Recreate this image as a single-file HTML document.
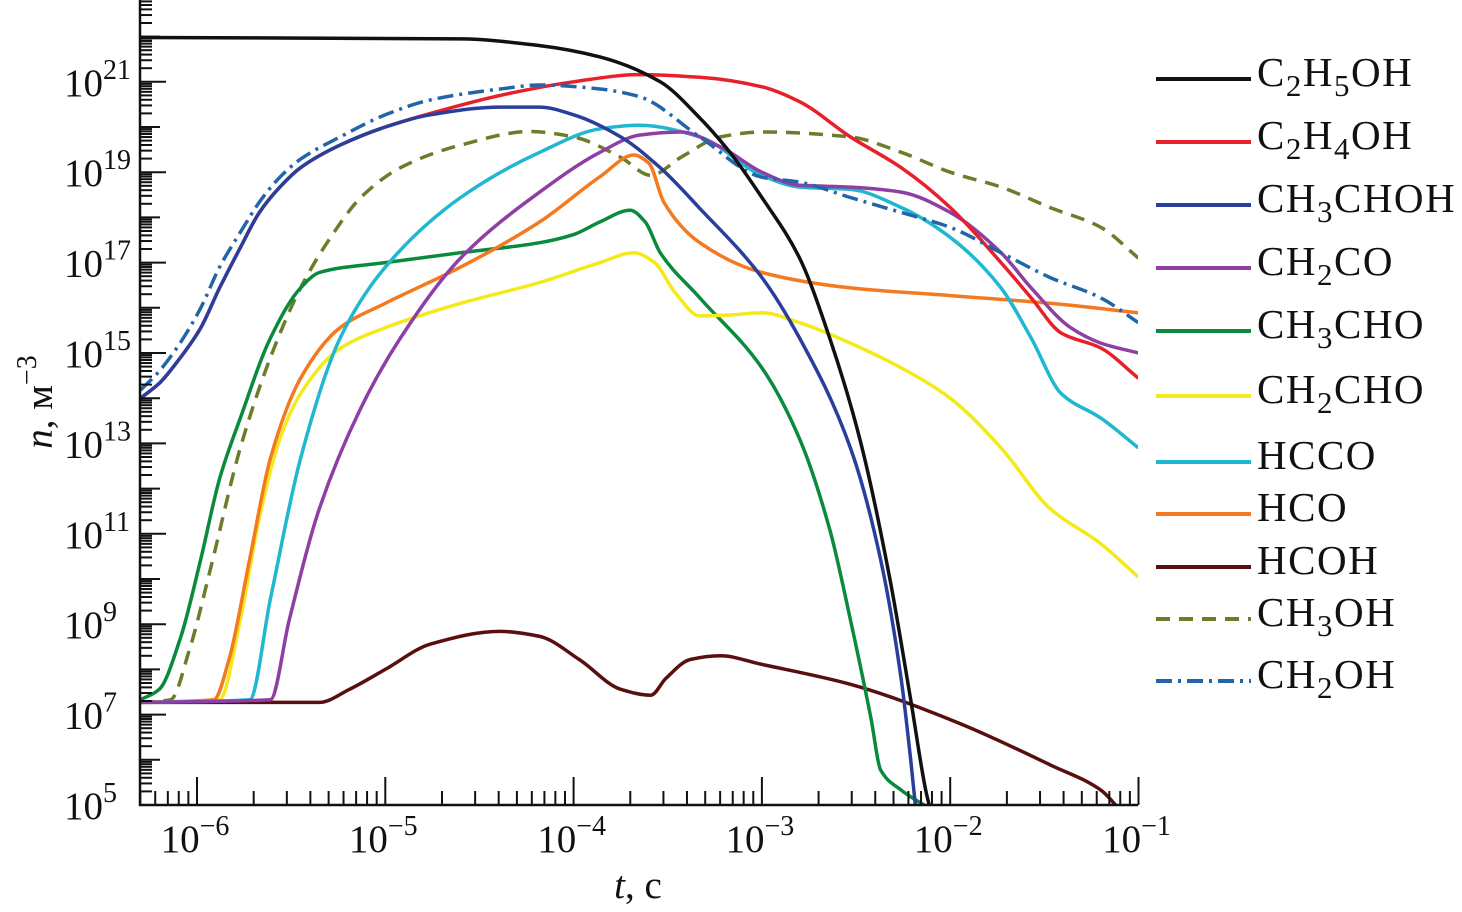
<!DOCTYPE html>
<html><head><meta charset="utf-8"><style>
html,body{margin:0;padding:0;background:#fff;}
svg{display:block;font-family:"Liberation Serif",serif;}
</style></head><body>
<svg id="chart" width="1462" height="912" viewBox="0 0 1462 912" xmlns="http://www.w3.org/2000/svg">
<defs><clipPath id="plotclip"><rect x="140" y="0" width="998" height="805"/></clipPath></defs>
<g id="series" clip-path="url(#plotclip)"></g>
<g id="axes"></g>
<g id="legend"></g>
</svg>
<script>
const xTickExps = [-6,-5,-4,-3,-2,-1];
const yTickExps = [5,7,9,11,13,15,17,19,21];
const seriesNames = ["C2H5OH","C2H4OH","CH3CHOH","CH2CO","CH3CHO","CH2CHO","HCCO","HCO","HCOH","CH3OH","CH2OH"];
const legendHtml = [["C","2","H","5","OH"],["C","2","H","4","OH"],["CH","3","CHOH"],["CH","2","CO"],["CH","3","CHO"],["CH","2","CHO"],["HCCO"],["HCO"],["HCOH"],["CH","3","OH"],["CH","2","OH"]];
// [log10 t, log10 n]
const sC2H5OH = [[-6.3,21.98],[-4.6,21.95],[-4.18,21.8],[-3.86,21.55],[-3.54,21.0],[-3.33,20.2],[-3.17,19.44],[-3,18.44],[-2.8,17.1],[-2.64,15.33],[-2.48,13.1],[-2.32,10],[-2.21,7.33],[-2.13,5.33],[-2.1,4.8]];
const sCH3CHOH = [[-6.3,14.0],[-6.2,14.33],[-6.09,14.89],[-5.98,15.56],[-5.88,16.44],[-5.77,17.33],[-5.67,18.1],[-5.56,18.67],[-5.45,19.1],[-5.24,19.6],[-5,20.0],[-4.76,20.27],[-4.39,20.44],[-4.18,20.44],[-4,20.27],[-3.75,19.78],[-3.54,19.1],[-3.33,18.2],[-3,16.67],[-2.8,15.33],[-2.53,12.9],[-2.37,10.44],[-2.26,7.78],[-2.21,6],[-2.18,4.8]];
const sC2H4OH = [[-6.3,14.0],[-6.2,14.33],[-6.09,14.89],[-5.98,15.56],[-5.88,16.44],[-5.77,17.33],[-5.67,18.1],[-5.56,18.67],[-5.45,19.1],[-5.24,19.6],[-5,20.0],[-4.76,20.3],[-4.39,20.7],[-4,21.0],[-3.65,21.16],[-3.33,21.1],[-3,20.89],[-2.8,20.56],[-2.53,19.78],[-2.26,19.1],[-2,18.22],[-1.73,17.0],[-1.57,16.22],[-1.41,15.44],[-1.2,15.11],[-1,14.44]];
const sCH2OH = [[-6.3,14.18],[-6.2,14.6],[-6.09,15.22],[-5.98,16.0],[-5.88,16.9],[-5.77,17.67],[-5.67,18.33],[-5.56,18.89],[-5.45,19.29],[-5.24,19.78],[-5,20.27],[-4.76,20.6],[-4.39,20.84],[-4.18,20.93],[-3.86,20.84],[-3.65,20.67],[-3.33,19.78],[-3,18.89],[-2.8,18.78],[-2.53,18.44],[-2.26,18.11],[-2,17.78],[-1.73,17.22],[-1.47,16.67],[-1.2,16.22],[-1,15.67]];
const sCH3OH = [[-6.3,7.27],[-6.14,7.33],[-6.04,8.44],[-5.93,10.2],[-5.77,12.9],[-5.61,14.9],[-5.45,16.44],[-5.29,17.56],[-5.13,18.44],[-4.92,19.1],[-4.6,19.6],[-4.23,19.9],[-4,19.78],[-3.75,19.33],[-3.59,18.93],[-3.43,19.33],[-3.22,19.78],[-3,19.89],[-2.53,19.78],[-2.26,19.44],[-2,19.0],[-1.73,18.67],[-1.47,18.22],[-1.2,17.78],[-1,17.1]];
const sCH3CHO = [[-6.3,7.33],[-6.2,7.56],[-6.09,8.67],[-5.98,10.44],[-5.88,12.22],[-5.77,13.56],[-5.61,15.33],[-5.45,16.44],[-5.35,16.78],[-5,17.0],[-4.6,17.22],[-4.18,17.44],[-4,17.62],[-3.86,17.9],[-3.7,18.16],[-3.62,17.9],[-3.54,17.22],[-3.33,16.22],[-3,14.67],[-2.8,13.1],[-2.64,11.1],[-2.53,9.1],[-2.42,6.9],[-2.37,5.78],[-2.26,5.33],[-2.1,4.9]];
const sCH2CHO = [[-6.3,7.27],[-5.88,7.33],[-5.77,9.1],[-5.67,11.33],[-5.56,13.1],[-5.45,14.1],[-5.24,15.1],[-5,15.56],[-4.6,16.1],[-4.18,16.56],[-3.86,17.0],[-3.68,17.22],[-3.57,17.0],[-3.46,16.33],[-3.33,15.82],[-3.17,15.84],[-3,15.89],[-2.8,15.67],[-2.53,15.22],[-2.26,14.67],[-2,14.0],[-1.73,12.9],[-1.47,11.56],[-1.2,10.78],[-1,10.04]];
const sHCO = [[-6.3,7.27],[-5.91,7.33],[-5.83,8.22],[-5.72,10.44],[-5.61,12.67],[-5.45,14.44],[-5.24,15.56],[-5,16.1],[-4.6,16.9],[-4.18,17.9],[-3.86,18.9],[-3.68,19.38],[-3.6,19.2],[-3.52,18.33],[-3.33,17.44],[-3,16.78],[-2.53,16.44],[-2,16.27],[-1.47,16.1],[-1,15.89]];
const sHCCO = [[-6.3,7.27],[-5.72,7.33],[-5.61,9.56],[-5.45,12.67],[-5.24,15.33],[-5,16.9],[-4.6,18.44],[-4.18,19.44],[-3.86,19.96],[-3.65,20.04],[-3.33,19.78],[-3,18.93],[-2.8,18.67],[-2.53,18.62],[-2.26,18.22],[-2,17.56],[-1.73,16.44],[-1.57,15.33],[-1.41,14.1],[-1.2,13.56],[-1,12.9]];
const sCH2CO = [[-6.3,7.27],[-5.61,7.33],[-5.51,9.1],[-5.35,11.56],[-5.13,13.78],[-4.92,15.33],[-4.6,17.1],[-4.18,18.56],[-3.86,19.44],[-3.65,19.82],[-3.43,19.89],[-3.22,19.56],[-3,19.0],[-2.8,18.71],[-2.53,18.67],[-2.26,18.56],[-2,18.11],[-1.73,17.22],[-1.57,16.44],[-1.36,15.56],[-1.2,15.22],[-1,15.0]];
const sHCOH = [[-6.3,7.27],[-5.35,7.27],[-5.19,7.56],[-5,8.0],[-4.76,8.56],[-4.39,8.84],[-4.18,8.73],[-3.97,8.22],[-3.75,7.56],[-3.59,7.43],[-3.51,7.8],[-3.38,8.22],[-3.22,8.3],[-3,8.11],[-2.53,7.67],[-2,6.89],[-1.47,5.89],[-1.2,5.33],[-1.1,4.9]];
const seriesData = [sC2H5OH,sC2H4OH,sCH3CHOH,sCH2CO,sCH3CHO,sCH2CHO,sHCCO,sHCO,sHCOH,sCH3OH,sCH2OH];
const colors = ["#111","#e8202a","#2a3f9c","#8e3fa5","#0a8a3c","#f4ea1a","#1fb8d0","#f47a20","#5a0f0f","#6b7d2a","#2266a8"];
const dashes = ["","","","","","","","","","14 9","16 6 3 6"];
const legendY = [79,142,205,268,331,396,462,514,567,619,681];

const NS="http://www.w3.org/2000/svg";
const X0=140,X1=1138,Y0=0,Y1=805;
function xs(lt){return 197+188.3*(lt+6);}
function ys(ln){return 805-45.2*(ln-5);}
function mk(tag,attrs,parent){const e=document.createElementNS(NS,tag);for(const k in attrs)e.setAttribute(k,attrs[k]);parent.appendChild(e);return e;}
const axes=document.getElementById('axes'),series=document.getElementById('series'),legend=document.getElementById('legend');

let ax=mk('path',{d:`M${X0},${Y0} V${Y1} H${X1}`,stroke:'#111','stroke-width':2.5,fill:'none'},axes);


for(let d=-7;d<=-1;d++){for(let m=1;m<=9;m++){const lt=d+Math.log10(m);const x=xs(lt);if(x<X0-0.5||x>X1+0.5)continue;const L=m===1?28:14;
const t=mk('line',{x1:x,x2:x,y1:Y1,y2:Y1-L,stroke:'#111','stroke-width':2},axes);

}}
xTickExps.forEach(e=>{const g=mk('text',{x:xs(e)-2,y:852,'font-size':39,'text-anchor':'middle',fill:'#111'},axes);


g.innerHTML=`10<tspan dy="-17" font-size="28">−${-e}</tspan>`;});
for(let d=4;d<=23;d++){for(let m=1;m<=9;m++){const ln=d+Math.log10(m);const y=ys(ln);if(y<Y0||y>Y1+0.5)continue;const major=(m===1&&d%2===1);const L=major?26:(m===1?20:12);
const t=mk('line',{x1:X0,x2:X0+L,y1:y,y2:y,stroke:'#111','stroke-width':2},axes);

}}
yTickExps.forEach(e=>{const g=mk('text',{x:64,y:ys(e)+14,'font-size':39,fill:'#111'},axes);


g.innerHTML=`10<tspan dy="-17" font-size="28">${e}</tspan>`;});
let xt=mk('text',{x:638,y:898,'font-size':39,'text-anchor':'middle',fill:'#111'},axes);


xt.innerHTML='<tspan font-style="italic">t</tspan>, с';
let yt=mk('text',{x:0,y:0,'font-size':39,'text-anchor':'middle',fill:'#111',transform:'translate(52,402) rotate(-90)'},axes);


yt.innerHTML='<tspan font-style="italic">n</tspan>, м<tspan dy="-16" font-size="28">−3</tspan>';

// monotone cubic (Fritsch-Carlson) in pixel space
function smooth(P){const n=P.length;const dx=[],s=[];for(let i=0;i<n-1;i++){dx[i]=P[i+1][0]-P[i][0];s[i]=(P[i+1][1]-P[i][1])/dx[i];}
const m=[];m[0]=s[0];m[n-1]=s[n-2];for(let i=1;i<n-1;i++){if(s[i-1]*s[i]<=0)m[i]=0;else{const w1=2*dx[i]+dx[i-1],w2=dx[i]+2*dx[i-1];m[i]=(w1+w2)/(w1/s[i-1]+w2/s[i]);}}
let d=`M${P[0][0].toFixed(1)},${P[0][1].toFixed(1)}`;
for(let i=0;i<n-1;i++){const h=dx[i]/3;d+=` C${(P[i][0]+h).toFixed(1)},${(P[i][1]+m[i]*h).toFixed(1)} ${(P[i+1][0]-h).toFixed(1)},${(P[i+1][1]-m[i+1]*h).toFixed(1)} ${P[i+1][0].toFixed(1)},${P[i+1][1].toFixed(1)}`;}return d;}

const order=[8,9,4,5,7,6,3,1,2,10,0];
order.forEach(i=>{const pts=seriesData[i].map(p=>[xs(p[0]),ys(p[1])]);
const a={d:smooth(pts),stroke:colors[i],'stroke-width':3.5,fill:'none','stroke-linejoin':'round'};if(dashes[i])a['stroke-dasharray']=dashes[i];
const p=mk('path',a,series);

});

seriesNames.forEach((n,i)=>{const g=mk('g',{},legend);


const a={x1:1156,x2:1251,y1:legendY[i],y2:legendY[i],stroke:colors[i],'stroke-width':4};if(dashes[i])a['stroke-dasharray']=dashes[i];
mk('line',a,g);
const t=mk('text',{x:1257,y:legendY[i]+7,'font-size':41,'letter-spacing':1.5,fill:'#111'},g);
const parts=legendHtml[i];let h='';parts.forEach((s,k)=>{if(k%2===1)h+=`<tspan dy="10" font-size="31">${s}</tspan>`;else h+=(k>0?`<tspan dy="-10">${s}</tspan>`:s);});
t.innerHTML=h;});
</script>
</body></html>
